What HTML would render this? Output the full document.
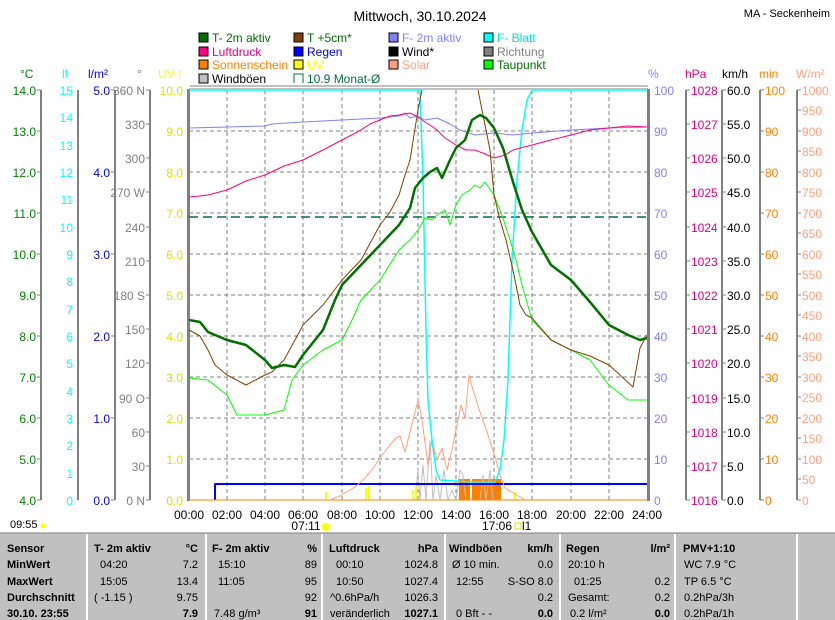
<!DOCTYPE html>
<html><head><meta charset="utf-8"><style>
body{margin:0;background:#fff;}
svg{display:block;font-family:"Liberation Sans",sans-serif;}
.t{font-size:11px;font-family:"Liberation Sans",sans-serif;}
</style></head><body>
<svg width="835" height="620" viewBox="0 0 835 620" xmlns="http://www.w3.org/2000/svg">
<defs><clipPath id="pc"><rect x="189" y="90" width="458" height="411"/></clipPath></defs>
<rect width="835" height="620" fill="#fff"/>
<text x="420" y="21" font-size="14" text-anchor="middle">Mittwoch, 30.10.2024</text>
<text x="830" y="17" font-size="11" text-anchor="end">MA - Seckenheim</text>
<g font-size="12">
<rect x="199" y="33" width="9" height="9" fill="#007000" stroke="#000"/><text x="212" y="42" fill="#007000">T- 2m aktiv</text>
<rect x="294" y="33" width="9" height="9" fill="#804000" stroke="#000"/><text x="307" y="42" fill="#007000">T +5cm*</text>
<rect x="389" y="33" width="9" height="9" fill="#8080ff" stroke="#000"/><text x="402" y="42" fill="#8080ff">F- 2m aktiv</text>
<rect x="484" y="33" width="9" height="9" fill="#00ffff" stroke="#000"/><text x="497" y="42" fill="#00e0e0">F- Blatt</text>
<rect x="199" y="47" width="9" height="9" fill="#ff0080" stroke="#000"/><text x="212" y="56" fill="#e0007f">Luftdruck</text>
<rect x="294" y="47" width="9" height="9" fill="#0000ff" stroke="#000"/><text x="307" y="56" fill="#0000ff">Regen</text>
<rect x="389" y="47" width="9" height="9" fill="#000" stroke="#000"/><text x="402" y="56">Wind*</text>
<rect x="484" y="47" width="9" height="9" fill="#808080" stroke="#000"/><text x="497" y="56" fill="#808080">Richtung</text>
<rect x="199" y="60" width="9" height="9" fill="#ff8000" stroke="#000"/><text x="212" y="69" fill="#ff8000">Sonnenschein</text>
<rect x="294" y="60" width="9" height="9" fill="#ffff00" stroke="#000"/><text x="307" y="69" fill="#ffff00">UV</text>
<rect x="389" y="60" width="9" height="9" fill="#ffa07a" stroke="#000"/><text x="402" y="69" fill="#ffa07a">Solar</text>
<rect x="484" y="60" width="9" height="9" fill="#00ff00" stroke="#000"/><text x="497" y="69" fill="#007000">Taupunkt</text>
<rect x="199" y="74" width="9" height="9" fill="#c0c0c0" stroke="#000"/><text x="212" y="83">Windböen</text>
<path d="M294 83V74h9v9" fill="none" stroke="#007040"/><text x="307" y="83" fill="#007040">10.9 Monat-Ø</text>
</g>
<line x1="190" y1="86" x2="648" y2="86" stroke="#808080"/>
<g font-size="12">
<text x="20" y="78" fill="#008000">°C</text>
<text x="62" y="78" fill="#00ffff">lf</text>
<text x="88" y="78" fill="#0000ff">l/m²</text>
<text x="137" y="78" fill="#808080">°</text>
<text x="158" y="78" fill="#ffff00">UV-I</text>
<text x="648" y="78" fill="#8080ff">%</text>
<text x="685" y="78" fill="#e0007f">hPa</text>
<text x="722" y="78" fill="#000">km/h</text>
<text x="759" y="78" fill="#ff8000">min</text>
<text x="796" y="78" fill="#ffa07a">W/m²</text>
</g>
<g stroke="#808080" stroke-dasharray="4,3" stroke-width="1">
<path d="M189 131H647M189 172H647M189 213H647M189 254H647M189 295H647M189 336H647M189 377H647M189 418H647M189 459H647"/>
<path d="M227 90V500M265 90V500M303 90V500M342 90V500M380 90V500M418 90V500M456 90V500M494 90V500M532 90V500M571 90V500M609 90V500"/>
</g>
<g stroke="#808080" stroke-width="2">
<line x1="41" y1="90" x2="41" y2="500"/><line x1="78" y1="90" x2="78" y2="500"/>
<line x1="115" y1="90" x2="115" y2="500"/><line x1="150" y1="90" x2="150" y2="500"/>
<line x1="686" y1="90" x2="686" y2="500"/><line x1="722" y1="90" x2="722" y2="500"/>
<line x1="760" y1="90" x2="760" y2="500"/><line x1="797" y1="90" x2="797" y2="500"/>
</g>
<g stroke="#808080">
<path d="M37 90h4M37 131h4M37 172h4M37 213h4M37 254h4M37 295h4M37 336h4M37 377h4M37 418h4M37 459h4M37 500h4"/>
<path d="M111 90h4M111 172h4M111 254h4M111 336h4M111 418h4M111 500h4"/>
<path d="M146 90h4M146 124h4M146 158h4M146 192h4M146 227h4M146 261h4M146 295h4M146 329h4M146 363h4M146 398h4M146 432h4M146 466h4M146 500h4"/>
<path d="M686 90h4M686 124h4M686 158h4M686 192h4M686 227h4M686 261h4M686 295h4M686 329h4M686 363h4M686 398h4M686 432h4M686 466h4M686 500h4"/>
<path d="M722 90h4M722 124h4M722 158h4M722 192h4M722 227h4M722 261h4M722 295h4M722 329h4M722 363h4M722 398h4M722 432h4M722 466h4M722 500h4"/>
<path d="M760 90h4M760 131h4M760 172h4M760 213h4M760 254h4M760 295h4M760 336h4M760 377h4M760 418h4M760 459h4M760 500h4"/>
<path d="M797 90h4M797 110h4M797 131h4M797 151h4M797 172h4M797 192h4M797 213h4M797 233h4M797 254h4M797 274h4M797 295h4M797 315h4M797 336h4M797 356h4M797 377h4M797 397h4M797 418h4M797 438h4M797 459h4M797 479h4M797 500h4"/>
</g>
<rect x="187" y="89" width="3" height="412" fill="#808080"/>
<rect x="647" y="89" width="3" height="412" fill="#808080"/>
<line x1="189" y1="89" x2="648" y2="89" stroke="#808080"/>
<line x1="189" y1="500" x2="648" y2="500" stroke="#808080"/>
<g font-size="12" text-anchor="end">
<g fill="#008000"><text x="36" y="95">14.0</text><text x="36" y="136">13.0</text><text x="36" y="177">12.0</text><text x="36" y="218">11.0</text><text x="36" y="259">10.0</text><text x="36" y="300">9.0</text><text x="36" y="341">8.0</text><text x="36" y="382">7.0</text><text x="36" y="423">6.0</text><text x="36" y="464">5.0</text><text x="36" y="505">4.0</text></g>
<g fill="#00ffff"><text x="73" y="95">15</text><text x="73" y="122">14</text><text x="73" y="150">13</text><text x="73" y="177">12</text><text x="73" y="204">11</text><text x="73" y="232">10</text><text x="73" y="259">9</text><text x="73" y="286">8</text><text x="73" y="314">7</text><text x="73" y="341">6</text><text x="73" y="368">5</text><text x="73" y="396">4</text><text x="73" y="423">3</text><text x="73" y="450">2</text><text x="73" y="478">1</text><text x="73" y="505">0</text></g>
<g fill="#0000ff"><text x="110" y="95">5.0</text><text x="110" y="177">4.0</text><text x="110" y="259">3.0</text><text x="110" y="341">2.0</text><text x="110" y="423">1.0</text><text x="110" y="505">0.0</text></g>
<g fill="#808080"><text x="145" y="95">360 N</text><text x="145" y="129">330</text><text x="145" y="163">300</text><text x="145" y="197">270 W</text><text x="145" y="232">240</text><text x="145" y="266">210</text><text x="145" y="300">180 S</text><text x="145" y="334">150</text><text x="145" y="368">120</text><text x="145" y="403">90 O</text><text x="145" y="437">60</text><text x="145" y="471">30</text><text x="145" y="505">0 N</text></g>
<g fill="#e0e000"><text x="183" y="95">10.0</text><text x="183" y="136">9.0</text><text x="183" y="177">8.0</text><text x="183" y="218">7.0</text><text x="183" y="259">6.0</text><text x="183" y="300">5.0</text><text x="183" y="341">4.0</text><text x="183" y="382">3.0</text><text x="183" y="423">2.0</text><text x="183" y="464">1.0</text><text x="183" y="505">0.0</text></g>
</g>
<g font-size="12">
<g fill="#8080ff"><text x="654" y="95">100</text><text x="654" y="136">90</text><text x="654" y="177">80</text><text x="654" y="218">70</text><text x="654" y="259">60</text><text x="654" y="300">50</text><text x="654" y="341">40</text><text x="654" y="382">30</text><text x="654" y="423">20</text><text x="654" y="464">10</text><text x="654" y="505">0</text></g>
<g fill="#e0007f"><text x="691" y="95">1028</text><text x="691" y="129">1027</text><text x="691" y="163">1026</text><text x="691" y="197">1025</text><text x="691" y="232">1024</text><text x="691" y="266">1023</text><text x="691" y="300">1022</text><text x="691" y="334">1021</text><text x="691" y="368">1020</text><text x="691" y="403">1019</text><text x="691" y="437">1018</text><text x="691" y="471">1017</text><text x="691" y="505">1016</text></g>
<g fill="#000"><text x="727" y="95">60.0</text><text x="727" y="129">55.0</text><text x="727" y="163">50.0</text><text x="727" y="197">45.0</text><text x="727" y="232">40.0</text><text x="727" y="266">35.0</text><text x="727" y="300">30.0</text><text x="727" y="334">25.0</text><text x="727" y="368">20.0</text><text x="727" y="403">15.0</text><text x="727" y="437">10.0</text><text x="727" y="471">5.0</text><text x="727" y="505">0.0</text></g>
<g fill="#ff8000"><text x="765" y="95">100</text><text x="765" y="136">90</text><text x="765" y="177">80</text><text x="765" y="218">70</text><text x="765" y="259">60</text><text x="765" y="300">50</text><text x="765" y="341">40</text><text x="765" y="382">30</text><text x="765" y="423">20</text><text x="765" y="464">10</text><text x="765" y="505">0</text></g>
<g fill="#ffa07a"><text x="802" y="95">1000</text><text x="802" y="115">950</text><text x="802" y="136">900</text><text x="802" y="156">850</text><text x="802" y="177">800</text><text x="802" y="197">750</text><text x="802" y="218">700</text><text x="802" y="238">650</text><text x="802" y="259">600</text><text x="802" y="279">550</text><text x="802" y="300">500</text><text x="802" y="320">450</text><text x="802" y="341">400</text><text x="802" y="361">350</text><text x="802" y="382">300</text><text x="802" y="402">250</text><text x="802" y="423">200</text><text x="802" y="443">150</text><text x="802" y="464">100</text><text x="802" y="484">50</text><text x="802" y="505">0</text></g>
</g>
<g font-size="12" text-anchor="middle">
<text x="189" y="519">00:00</text><text x="227" y="519">02:00</text><text x="265" y="519">04:00</text><text x="303" y="519">06:00</text><text x="342" y="519">08:00</text><text x="380" y="519">10:00</text><text x="418" y="519">12:00</text><text x="456" y="519">14:00</text><text x="494" y="519">16:00</text><text x="532" y="519">18:00</text><text x="571" y="519">20:00</text><text x="609" y="519">22:00</text><text x="647" y="519">24:00</text>
<text x="306" y="530">07:11</text><text x="497" y="530">17:06</text>
</g>
<circle cx="326" cy="527" r="4" fill="#ffff00"/><rect x="515" y="523" width="6" height="6" fill="none" stroke="#e0e000"/><text x="522" y="530" font-size="12">l1</text>
<text x="10" y="528" font-size="11">09:55</text><circle cx="43" cy="526" r="2.5" fill="#ffff00"/>
<line x1="189" y1="217" x2="647" y2="217" stroke="#007040" stroke-width="1.5" stroke-dasharray="9,5"/>
<g fill="none" stroke-linejoin="round" clip-path="url(#pc)">
<rect x="459" y="479" width="11" height="21" fill="#ff8000" stroke="none"/>
<rect x="472" y="479" width="29" height="21" fill="#ff8000" stroke="none"/>
<polyline stroke="#c0c0c0" points="415,500 418,470 420,500 423,465 426,500 430,440 433,500 436,475 440,500 444,470 448,500 452,490 456,500 460,470 463,475 466,500 480,500 483,475 486,500 490,470 493,500"/>
<path d="M326,500V492M366,500V488M369,500V486M413,500V490M416,500V486M515,500V492" stroke="#ffff00" stroke-width="2"/>
<polyline stroke="#0000ff" stroke-width="2" points="215,500 215,484 647,484"/>
<polyline stroke="#ff8000" points="189,500 647,500"/>
<polyline stroke="#ffa07a" points="330,500 340,496 355,487 365,478 372,470 380,458 390,445 396,438 400,436 405,452 410,432 415,412 418,400 422,420 428,465 432,440 437,460 442,448 447,470 452,450 457,425 461,405 465,418 469,375 473,390 480,412 488,435 496,460 500,475 505,488 515,494 525,500"/>
<polyline stroke="#00ffff" stroke-width="1.5" points="189,90 420,90 423,180 426,330 428,400 432,440 436,470 440,480 470,482 495,482 500,470 504,440 508,380 512,260 517,180 522,130 527,100 532,90 647,90"/>
<polyline stroke="#8080ff" points="189,128 265,126 272,124 303,122 342,120 380,118 399,116 405,113 410,118 418,116 425,120 437,118 450,124 460,130 475,135 494,133 513,135 532,133 571,130 609,128 647,127"/>
<polyline stroke="#ff0080" points="189,197 200,196 208,195 227,190 246,181 265,175 284,166 303,160 323,150 342,140 361,130 370,124 380,120 390,116 399,115 410,113 418,117 425,122 430,125 437,130 445,138 456,145 466,150 475,150 485,154 494,158 505,155 513,150 532,145 551,140 571,135 590,130 609,128 628,126 647,127"/>
<polyline stroke="#00ff00" points="189,378 208,380 227,395 237,415 265,415 284,410 292,380 303,365 323,350 342,340 352,320 361,300 380,280 399,250 410,240 418,230 425,218 432,220 437,215 445,210 450,225 456,205 462,195 470,190 475,185 480,188 485,182 494,195 503,218 510,240 516,260 522,285 532,320 551,340 571,350 590,360 609,385 628,400 647,400"/>
<polyline stroke="#804000" points="189,330 200,336 208,350 215,365 227,375 246,385 265,375 272,372 284,360 295,340 303,325 323,305 342,280 361,260 380,225 390,212 399,195 405,175 410,160 414,135 418,110 423,85 430,60 470,60 477,85 480,100 485,125 490,150 494,195 500,220 506,240 513,270 520,305 526,315 532,318 551,340 571,350 590,356 609,365 620,375 633,387 640,348 647,335"/>
<polyline stroke="#007000" stroke-width="2.5" points="189,320 200,322 208,332 227,340 246,345 265,360 272,368 284,365 295,367 303,355 315,340 323,330 335,300 342,285 361,265 380,245 399,225 410,208 415,188 423,178 430,172 437,168 442,178 450,160 456,148 465,140 472,120 480,115 486,118 494,128 503,148 513,182 522,210 532,232 551,265 571,280 590,302 609,325 628,335 640,340 647,338"/>
</g>
<rect x="0" y="533" width="835" height="87" fill="#c0c0c0"/>
<line x1="0" y1="533" x2="835" y2="533" stroke="#808080"/>
<g stroke="#fff" stroke-width="2"><path d="M87 534V620M206 534V620M322 534V620M445 534V620M560 534V620M675 534V620M797 534V620"/></g>
<g class="t" font-size="11.5">
<g font-weight="bold"><text x="7" y="552">Sensor</text><text x="7" y="568">MinWert</text><text x="7" y="585">MaxWert</text><text x="7" y="601">Durchschnitt</text><text x="7" y="617">30.10. 23:55</text>
<text x="94" y="552">T- 2m aktiv</text><text x="212" y="552">F- 2m aktiv</text><text x="329" y="552">Luftdruck</text><text x="449" y="552">Windböen</text><text x="566" y="552">Regen</text><text x="683" y="552">PMV+1:10</text></g>
<g text-anchor="end" font-weight="bold"><text x="198" y="552">°C</text><text x="317" y="552">%</text><text x="438" y="552">hPa</text><text x="553" y="552">km/h</text><text x="670" y="552">l/m²</text>
<text x="198" y="617">7.9</text><text x="317" y="617">91</text><text x="438" y="617">1027.1</text><text x="553" y="617">0.0</text><text x="670" y="617">0.0</text></g>
<text x="100" y="568">04:20</text><text x="100" y="585">15:05</text><text x="94" y="601">( -1.15 )</text>
<text x="218" y="568">15:10</text><text x="218" y="585">11:05</text><text x="214" y="617">7.48 g/m³</text>
<text x="336" y="568">00:10</text><text x="336" y="585">10:50</text><text x="330" y="601">^0.6hPa/h</text><text x="330" y="617">veränderlich</text>
<text x="452" y="568">Ø 10 min.</text><text x="456" y="585">12:55</text><text x="456" y="617">0 Bft - -</text>
<text x="568" y="568">20:10 h</text><text x="574" y="585">01:25</text><text x="568" y="601">Gesamt:</text><text x="570" y="617">0.2 l/m²</text>
<text x="684" y="568">WC 7.9 °C</text><text x="684" y="585">TP 6.5 °C</text><text x="684" y="601">0.2hPa/3h</text><text x="684" y="617">0.2hPa/1h</text>
<g text-anchor="end"><text x="198" y="568">7.2</text><text x="198" y="585">13.4</text><text x="198" y="601">9.75</text>
<text x="317" y="568">89</text><text x="317" y="585">95</text><text x="317" y="601">92</text>
<text x="438" y="568">1024.8</text><text x="438" y="585">1027.4</text><text x="438" y="601">1026.3</text>
<text x="553" y="568">0.0</text><text x="553" y="585">S-SO 8.0</text><text x="553" y="601">0.2</text>
<text x="670" y="585">0.2</text><text x="670" y="601">0.2</text></g>
</g>
</svg>
</body></html>
